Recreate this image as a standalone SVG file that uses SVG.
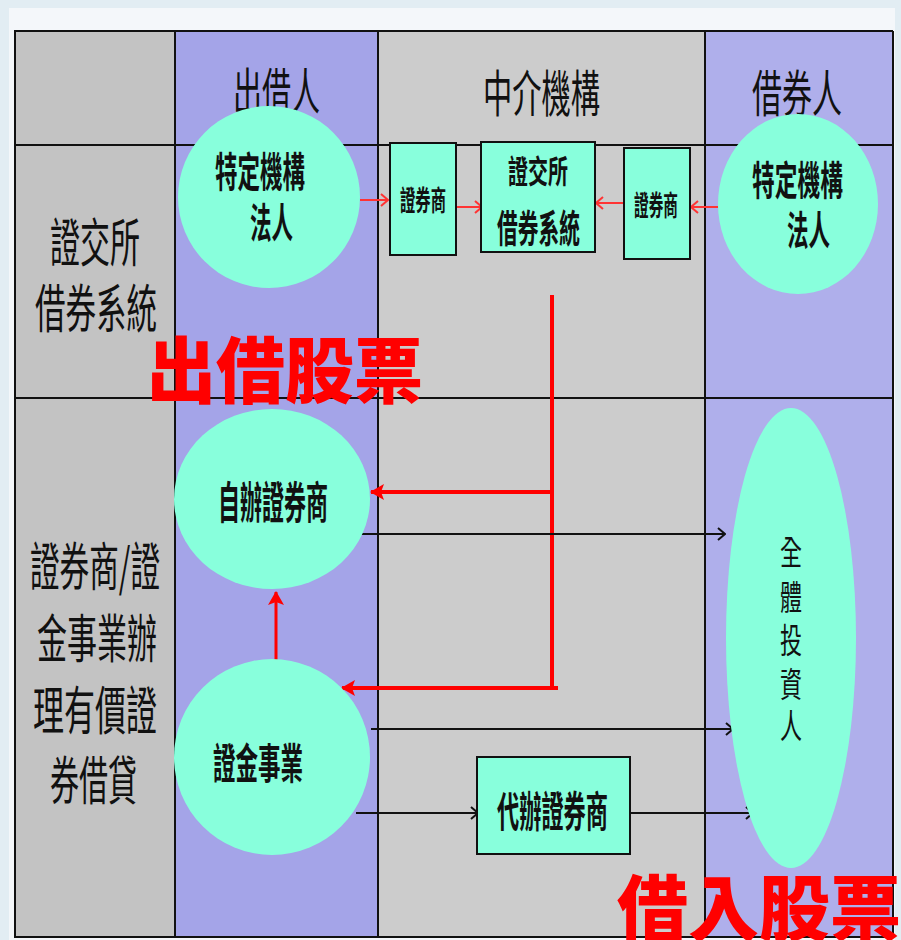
<svg xmlns="http://www.w3.org/2000/svg" width="901" height="940" viewBox="0 0 901 940">
<style>
.cjk{font-family:"Noto Sans CJK TC","Noto Sans CJK SC",sans-serif;fill:#111}
.hd{font-size:50px}
.lc{font-size:52px}
.nt{font-weight:bold}
.node{fill:#88ffdc}
.box{fill:#88ffdc;stroke:#111;stroke-width:2}
.grid{stroke:#111;stroke-width:2;fill:none}
.rs{stroke:#ff3333;stroke-width:2;fill:none}
.rb{stroke:#ff0000;stroke-width:4;fill:none}
.bk{stroke:#111;stroke-width:2;fill:none}
.red{font-family:"Noto Sans CJK TC","Noto Sans CJK SC",sans-serif;font-weight:900;fill:#ff0000;font-size:72px}
</style>
<defs>
<marker id="ro" markerWidth="10" markerHeight="14" refX="9" refY="7" orient="auto" markerUnits="userSpaceOnUse"><path d="M2,1 L9,7 L2,13" fill="none" stroke="#ff3333" stroke-width="2"/></marker>
<marker id="rf" markerWidth="14" markerHeight="16" refX="13" refY="8" orient="auto" markerUnits="userSpaceOnUse"><path d="M0,0 L14,8 L0,16 L3,8 Z" fill="#ff0000"/></marker>
<marker id="bo" markerWidth="10" markerHeight="14" refX="9" refY="7" orient="auto" markerUnits="userSpaceOnUse"><path d="M2,1 L9,7 L2,13" fill="none" stroke="#111" stroke-width="2"/></marker>
</defs>
<rect x="0" y="0" width="901" height="940" fill="#e2edf3"/>
<rect x="9" y="8" width="886" height="932" fill="#f4f7fa"/>
<g id="lanes">
<rect x="15" y="31" width="160" height="906" fill="#c3c3c3"/>
<rect x="175" y="31" width="203" height="906" fill="#a4a4e8"/>
<rect x="378" y="31" width="327" height="906" fill="#cccccc"/>
<rect x="705" y="31" width="188" height="906" fill="#afafeb"/>
<path class="grid" d="M14,31 H893 M14,145 H893 M14,398 H893 M14,937 H893 M15,31 V937 M175,31 V937 M378,31 V937 M705,31 V937 M893,31 V937"/>
<text class="cjk hd" x="233" y="110" textLength="87" lengthAdjust="spacingAndGlyphs">出借人</text>
<text class="cjk hd" x="483" y="112" textLength="117" lengthAdjust="spacingAndGlyphs">中介機構</text>
<text class="cjk hd" x="752" y="112" textLength="90" lengthAdjust="spacingAndGlyphs">借券人</text>
<text class="cjk lc"><tspan x="50" y="262" textLength="90" lengthAdjust="spacingAndGlyphs">證交所</tspan><tspan x="35" y="328" textLength="122" lengthAdjust="spacingAndGlyphs">借券系統</tspan></text>
<text class="cjk lc"><tspan x="30" y="586" textLength="130" lengthAdjust="spacingAndGlyphs">證券商/證</tspan><tspan x="37" y="658" textLength="120" lengthAdjust="spacingAndGlyphs">金事業辦</tspan><tspan x="33" y="730" textLength="124" lengthAdjust="spacingAndGlyphs">理有價證</tspan><tspan x="50" y="800" textLength="87" lengthAdjust="spacingAndGlyphs">券借貸</tspan></text>
</g>
<g id="connectors">
<line class="rs" x1="360" y1="200" x2="388" y2="200" marker-end="url(#ro)"/>
<line class="rs" x1="456" y1="207" x2="482" y2="207" marker-end="url(#ro)"/>
<line class="rs" x1="624" y1="203" x2="596" y2="203" marker-end="url(#ro)"/>
<line class="rs" x1="718" y1="207" x2="691" y2="207" marker-end="url(#ro)"/>
<line class="rb" x1="552" y1="295" x2="552" y2="690"/>
<line class="rb" x1="552" y1="492" x2="371" y2="492" marker-end="url(#rf)"/>
<line class="rb" x1="558" y1="688" x2="342" y2="688" marker-end="url(#rf)"/>
<line stroke="#ff0000" stroke-width="3" x1="276" y1="667" x2="276" y2="592" marker-end="url(#rf)"/>
<line class="bk" x1="357" y1="534" x2="725" y2="534" marker-end="url(#bo)"/>
<line class="bk" x1="371" y1="729" x2="733" y2="729" marker-end="url(#bo)"/>
<line class="bk" x1="356" y1="813" x2="478" y2="813" marker-end="url(#bo)"/>
<line class="bk" x1="631" y1="813" x2="753" y2="813" marker-end="url(#bo)"/>
</g>
<g id="lender-inst">
<ellipse class="node" cx="269" cy="197" rx="91" ry="91"/>
<text class="cjk nt" font-size="41"><tspan x="215" y="187" textLength="90" lengthAdjust="spacingAndGlyphs">特定機構</tspan><tspan x="250" y="238" textLength="43" lengthAdjust="spacingAndGlyphs">法人</tspan></text>
</g>
<g id="broker-left">
<rect class="box" x="390" y="143" width="66" height="112"/>
<text class="cjk nt" x="400" y="211" font-size="28" textLength="46" lengthAdjust="spacingAndGlyphs">證券商</text>
</g>
<g id="twse-system">
<rect class="box" x="481" y="142" width="114" height="110"/>
<text class="cjk nt"><tspan x="508" y="183" font-size="32" textLength="60" lengthAdjust="spacingAndGlyphs">證交所</tspan><tspan x="497" y="242" font-size="38" textLength="83" lengthAdjust="spacingAndGlyphs">借券系統</tspan></text>
</g>
<g id="broker-right">
<rect class="box" x="624" y="148" width="66" height="111"/>
<text class="cjk nt" x="634" y="216" font-size="28" textLength="44" lengthAdjust="spacingAndGlyphs">證券商</text>
</g>
<g id="borrower-inst">
<ellipse class="node" cx="798" cy="204" rx="80" ry="90"/>
<text class="cjk nt" font-size="40"><tspan x="752" y="195" textLength="91" lengthAdjust="spacingAndGlyphs">特定機構</tspan><tspan x="787" y="245" textLength="43" lengthAdjust="spacingAndGlyphs">法人</tspan></text>
</g>
<g id="self-broker">
<ellipse class="node" cx="272" cy="499" rx="98" ry="90"/>
<text class="cjk nt" x="218" y="519" font-size="44" textLength="110" lengthAdjust="spacingAndGlyphs">自辦證券商</text>
</g>
<g id="securities-finance">
<ellipse class="node" cx="272" cy="757" rx="98" ry="98"/>
<text class="cjk nt" x="213" y="779" font-size="42" textLength="90" lengthAdjust="spacingAndGlyphs">證金事業</text>
</g>
<g id="agent-broker">
<rect class="box" x="477" y="757" width="153" height="97"/>
<text class="cjk nt" x="497" y="827" font-size="42" textLength="111" lengthAdjust="spacingAndGlyphs">代辦證券商</text>
</g>
<g id="all-investors">
<ellipse class="node" cx="791" cy="638" rx="65" ry="230"/>
<text class="cjk" font-size="34" text-anchor="middle"><tspan x="791" y="565" textLength="22" lengthAdjust="spacingAndGlyphs">全</tspan><tspan x="791" y="610" textLength="22" lengthAdjust="spacingAndGlyphs">體</tspan><tspan x="791" y="653" textLength="22" lengthAdjust="spacingAndGlyphs">投</tspan><tspan x="791" y="697" textLength="22" lengthAdjust="spacingAndGlyphs">資</tspan><tspan x="791" y="739" textLength="22" lengthAdjust="spacingAndGlyphs">人</tspan></text>
</g>
<text class="red" x="147" y="397" textLength="276" lengthAdjust="spacingAndGlyphs">出借股票</text>
<text class="red" x="617" y="935" textLength="284" lengthAdjust="spacingAndGlyphs">借入股票</text>
</svg>
